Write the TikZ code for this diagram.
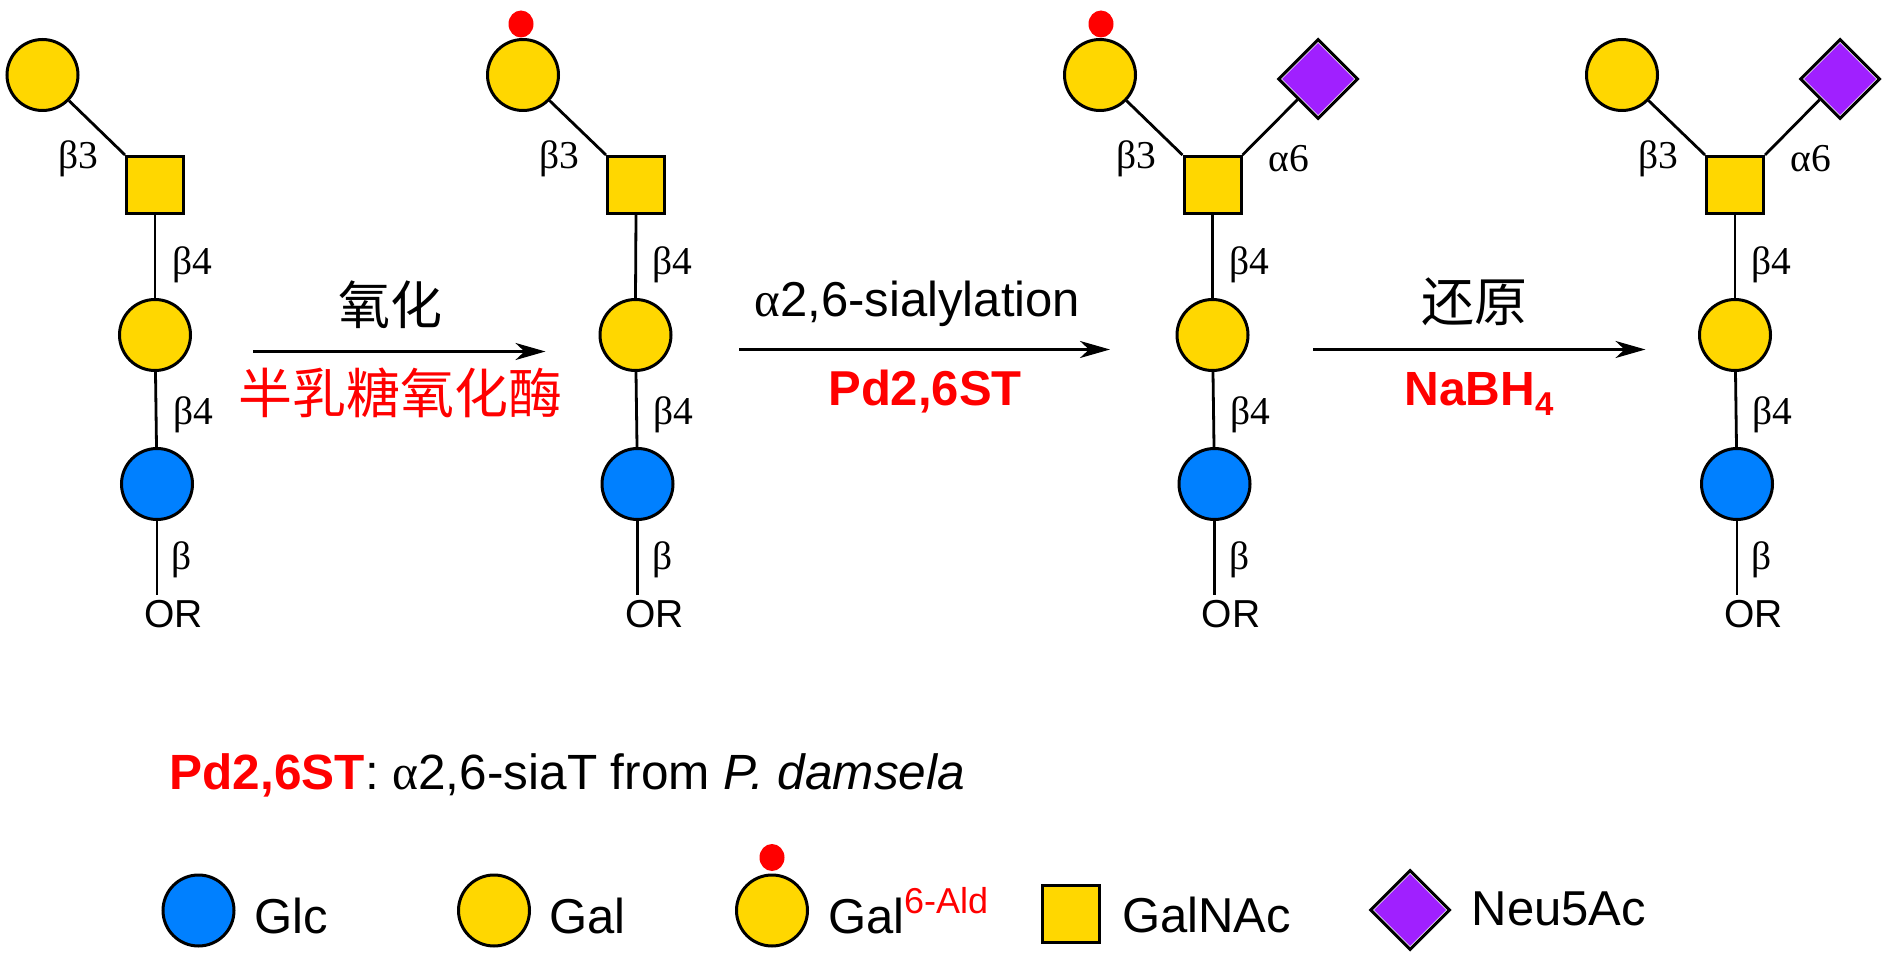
\documentclass[tikz,border=0pt]{standalone}
\usepackage{fontspec}
\setmainfont{Liberation Sans}
\newfontfamily\symbfont{Liberation Serif}
\newfontfamily\cjk{Noto Sans CJK SC}
\usepackage{xcolor}
\usepackage{tikz}
\usetikzlibrary{shapes,arrows.meta,positioning,calc}

\definecolor{galgold}{RGB}{255,215,0}
\definecolor{glcblue}{RGB}{0,128,255}
\definecolor{neupurple}{RGB}{160,32,255}
\newcommand{\fs}[1]{\fontsize{#1}{#1}\selectfont}

\tikzset{
  sugar/.style={draw=black, line width=3pt, inner sep=0pt},
  glc/.style={sugar, circle, fill=glcblue, minimum size=71pt},
  gal/.style={sugar, circle, fill=galgold, minimum size=71pt},
  galnac/.style={sugar, rectangle, fill=galgold, minimum size=57pt},
  neu/.style={sugar, diamond, fill=white, minimum width=80pt, minimum height=80pt,
    path picture={\fill[neupurple] (path picture bounding box.center) +(-36,0) -- +(0,-36) -- +(36,0) -- +(0,36) -- cycle;}},
  ald/.style={ellipse, fill=red, inner sep=0pt, minimum width=25pt, minimum height=27pt},
  bond/.style={draw=black, line width=2.8pt},
  rxn/.style={draw=black, line width=2.8pt, -{Stealth[length=30pt, width=17pt, inset=9pt]}},
  link/.style={inner sep=0pt, anchor=center, font=\symbfont\fs{39.5}},
  endgroup/.style={inner sep=0pt, font=\fs{39}},
  reagent/.style={inner sep=0pt, anchor=base},
  legendtext/.style={inner sep=0pt, anchor=base west, font=\fs{49}},
}

\begin{document}
\begin{tikzpicture}[x=1pt, y=-1pt]
        \useasboundingbox (0,0) rectangle (1888,957);

        % Chain 1
        \node (top1) [gal] at (42.5,75) {};
        \node (sq1) [galnac] at (155,185) {};
        \node (mid1) [gal] at (155,335) {};
        \node (low1) [glc] at (157,484) {};
        \coordinate (end1) at (157,595);
        \node (or1) [endgroup] at (173.5,614) {OR};
        \draw[bond] (top1) -- (sq1.north west);
        \draw[bond] (sq1.south) -- (mid1.north);
        \draw[bond] (mid1) -- (low1);
        \draw[bond] (low1.south) -- (end1);
        \node (b31) [link] at (78,159) {β3};
        \node (b41) [link] at (192,265) {β4};
        \node (b42) [link] at (193,415) {β4};
        \node (b1) [link] at (182,560) {β};

        % Chain 2
        \node (dot2) [ald] at (521,24) {};
        \node (top2) [gal] at (523,75) {};
        \node (sq2) [galnac] at (636,185) {};
        \node (mid2) [gal] at (635.5,335) {};
        \node (low2) [glc] at (637.5,484) {};
        \coordinate (end2) at (637.5,595);
        \node (or2) [endgroup] at (654.5,614) {OR};
        \draw[bond] (top2) -- (sq2.north west);
        \draw[bond] (sq2.south) -- (mid2.north);
        \draw[bond] (mid2) -- (low2);
        \draw[bond] (low2.south) -- (end2);
        \node (b32) [link] at (559,159) {β3};
        \node (b43) [link] at (672,265) {β4};
        \node (b44) [link] at (673,415) {β4};
        \node (b2) [link] at (663,560) {β};

        % Chain 3
        \node (dot3) [ald] at (1101,24) {};
        \node (top3) [gal] at (1100,75) {};
        \node (dia3) [neu] at (1318,79) {};
        \node (sq3) [galnac] at (1212.5,185) {};
        \node (mid3) [gal] at (1212.5,335) {};
        \node (low3) [glc] at (1214.5,484) {};
        \coordinate (end3) at (1214.5,595);
        \node (or3) [endgroup] at (1231,614) {OR};
        \draw[bond] (top3) -- (sq3.north west);
        \draw[bond] (dia3) -- (sq3.north east);
        \draw[bond] (sq3.south) -- (mid3.north);
        \draw[bond] (mid3) -- (low3);
        \draw[bond] (low3.south) -- (end3);
        \node (b33) [link] at (1136,159) {β3};
        \node (a63) [link] at (1289,159) {α6};
        \node (b45) [link] at (1249,265) {β4};
        \node (b46) [link] at (1250,415) {β4};
        \node (b3) [link] at (1239.5,560) {β};

        % Chain 4
        \node (top4) [gal] at (1622,75) {};
        \node (dia4) [neu] at (1840,79) {};
        \node (sq4) [galnac] at (1735,185) {};
        \node (mid4) [gal] at (1735,335) {};
        \node (low4) [glc] at (1737,484) {};
        \coordinate (end4) at (1737,595);
        \node (or4) [endgroup] at (1753.5,614) {OR};
        \draw[bond] (top4) -- (sq4.north west);
        \draw[bond] (dia4) -- (sq4.north east);
        \draw[bond] (sq4.south) -- (mid4.north);
        \draw[bond] (mid4) -- (low4);
        \draw[bond] (low4.south) -- (end4);
        \node (b34) [link] at (1658,159) {β3};
        \node (a64) [link] at (1811,159) {α6};
        \node (b47) [link] at (1771,265) {β4};
        \node (b48) [link] at (1772,415) {β4};
        \node (b4) [link] at (1761.5,560) {β};

        % Reactions
        \coordinate (s1) at (253,351.5);
        \coordinate (e1) at (545.5,351.5);
        \coordinate (s2) at (739,349.5);
        \coordinate (e2) at (1110,349.5);
        \coordinate (s3) at (1313,349.5);
        \coordinate (e3) at (1645.5,349.5);
        \draw[rxn] (s1) -- (e1);
        \draw[rxn] (s2) -- (e2);
        \draw[rxn] (s3) -- (e3);
        \node (oxtext) [inner sep=0pt, font=\cjk\fs{52}] at (390,305) {氧化};
        \node (oxenz) [inner sep=0pt, text=red, font=\cjk\fs{54}] at (400,393) {半乳糖氧化酶};
        \node (siatext) [reagent, font=\fs{49}] at (917.5,317) {{\symbfont α}2,6-sialylation};
        \node (siaenz) [reagent, text=red, font=\bfseries\fs{49}] at (925,406) {Pd2,6ST};
        \node (redtext) [inner sep=0pt, font=\cjk\fs{53}] at (1474,302) {还原};
        \node (redenz) [reagent, text=red, font=\bfseries\fs{48}] at (1479,406) {NaBH\raisebox{-10pt}{\fs{33}4}};

        % Note
        \node (note) [legendtext, font=\fs{49.5}] at (169.5,789) {\textcolor{red}{\textbf{Pd2,6ST}}: {\symbfont α}2,6-siaT from \textit{P. damsela}};

        % Legend
        \node (keyglc) [glc] at (198.5,910.5) {};
        \node (keyglct) [legendtext] at (254,933) {Glc};
        \node (keygal) [gal] at (494,910.5) {};
        \node (keygalt) [legendtext] at (549,933) {Gal};
        \node (keyald) [ald] at (772,857.5) {};
        \node (keygal6) [gal] at (772,910.5) {};
        \node (keygal6t) [legendtext] at (828,933) {Gal};
        \node (keysup) [legendtext, text=red, font=\fs{36}] at (904,913) {6-Ald};
        \node (keysq) [galnac] at (1070.5,914) {};
        \node (keysqt) [legendtext] at (1122,932) {GalNAc};
        \node (keydia) [neu] at (1410,910) {};
        \node (keydiat) [legendtext] at (1471.5,925) {Neu5Ac};
    \end{tikzpicture}
\end{document}
